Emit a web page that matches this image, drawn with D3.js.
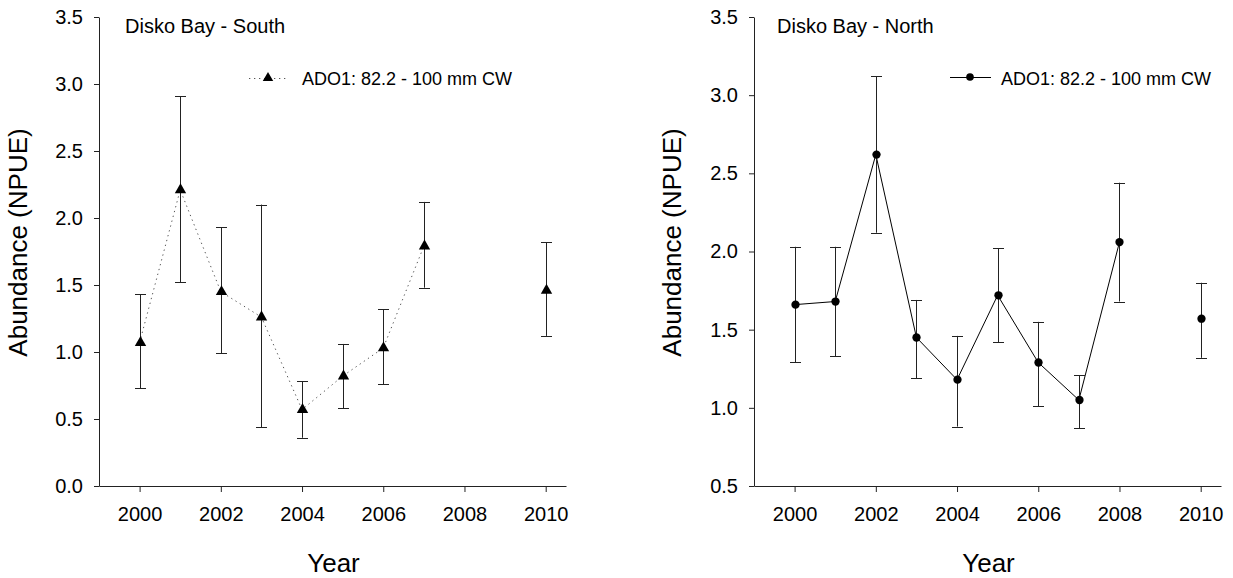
<!DOCTYPE html>
<html>
<head>
<meta charset="utf-8">
<script src="https://cdn.jsdelivr.net/npm/d3@7/dist/d3.min.js"></script>
<style>
  html, body { margin: 0; padding: 0; background: #fff; }
  svg { display: block; }
  text { font-family: "Liberation Sans", Arial, Helvetica, sans-serif; fill: #000; }
</style>
</head>
<body>
<svg id="chart" width="1233" height="578"></svg>
<script>
// Survey years and abundance (NPUE) with lower / upper error limits
const southYears = [2000, 2001, 2002, 2003, 2004, 2005, 2006, 2007, 2010];
const southMean  = [1.07, 2.21, 1.45, 1.26, 0.57, 0.82, 1.03, 1.79, 1.46];
const southLower = [0.73, 1.52, 0.99, 0.44, 0.36, 0.58, 0.76, 1.48, 1.12];
const southUpper = [1.43, 2.91, 1.93, 2.10, 0.78, 1.06, 1.32, 2.12, 1.82];

const northYears = [2000, 2001, 2002, 2003, 2004, 2005, 2006, 2007, 2008, 2010];
const northMean  = [1.66, 1.68, 2.62, 1.45, 1.18, 1.72, 1.29, 1.05, 2.06, 1.57];
const northLower = [1.29, 1.33, 2.12, 1.19, 0.88, 1.42, 1.01, 0.87, 1.68, 1.32];
const northUpper = [2.03, 2.03, 3.12, 1.69, 1.46, 2.02, 1.55, 1.21, 2.44, 1.80];

const xTicks = [2000, 2002, 2004, 2006, 2008, 2010];
const southYTicks = [0.0, 0.5, 1.0, 1.5, 2.0, 2.5, 3.0, 3.5];
const northYTicks = [0.5, 1.0, 1.5, 2.0, 2.5, 3.0, 3.5];

const seriesLabel = "ADO1: 82.2 - 100 mm CW";
const yTitle = "Abundance (NPUE)";
const xTitle = "Year";

const svg = d3.select("#chart");

const panels = [
  {
    title: "Disko Bay - South",
    years: southYears, mean: southMean, lower: southLower, upper: southUpper,
    yDomain: [0, 3.5], yTicks: southYTicks,
    left: 99, right: 566, top: 17, bottom: 486,
    titleDx: 26, yTitleX: 27,
    symbol: d3.symbolTriangle, symbolSize: 56, dotted: true,
    legendLine: [249, 286], legendSym: 268, legendText: 302, legendY: 78
  },
  {
    title: "Disko Bay - North",
    years: northYears, mean: northMean, lower: northLower, upper: northUpper,
    yDomain: [0.5, 3.5], yTicks: northYTicks,
    left: 754, right: 1221, top: 17, bottom: 486,
    titleDx: 23, yTitleX: 681,
    symbol: d3.symbolCircle, symbolSize: 54, dotted: false,
    legendLine: [950, 991], legendSym: 970, legendText: 1001, legendY: 77
  }
];

panels.forEach(p => {
  const x = d3.scaleLinear().domain([1999, 2010.5]).range([p.left, p.right]);
  const y = d3.scaleLinear().domain(p.yDomain).range([p.bottom, p.top]);
  const g = svg.append("g");

  // axes
  const yAxis = d3.axisLeft(y).tickValues(p.yTicks).tickFormat(d3.format(".1f"))
    .tickSizeInner(5).tickSizeOuter(0).tickPadding(11);
  const xAxis = d3.axisBottom(x).tickValues(xTicks).tickFormat(d3.format("d"))
    .tickSizeInner(6).tickSizeOuter(0).tickPadding(15);

  const ya = g.append("g").attr("transform", `translate(${p.left},0)`).call(yAxis);
  const xa = g.append("g").attr("transform", `translate(0,${p.bottom})`).call(xAxis);
  [ya, xa].forEach(a => {
    a.select(".domain").attr("stroke", "#222").attr("stroke-width", 1);
    a.selectAll(".tick line").attr("stroke", "#222");
    a.selectAll(".tick text").attr("font-size", 20)
      .attr("font-family", "Liberation Sans, Arial, sans-serif").attr("fill", "#000");
  });

  // axis titles
  g.append("text")
    .attr("transform", `translate(${p.yTitleX},${(p.top + p.bottom) / 2 - 9}) rotate(-90)`)
    .attr("text-anchor", "middle")
    .attr("font-size", 26)
    .text(yTitle);
  g.append("text")
    .attr("x", (p.left + p.right) / 2 + 1)
    .attr("y", 572)
    .attr("text-anchor", "middle")
    .attr("font-size", 26)
    .text(xTitle);

  // panel title
  g.append("text")
    .attr("x", p.left + p.titleDx)
    .attr("y", 33)
    .attr("font-size", 20)
    .text(p.title);

  const pts = p.years.map((yr, i) => ({ year: yr, mean: p.mean[i], lo: p.lower[i], hi: p.upper[i] }));

  // connecting line: consecutive years only
  const segments = [];
  pts.forEach((d, i) => {
    if (i === 0 || d.year - pts[i - 1].year > 1) segments.push([]);
    segments[segments.length - 1].push(d);
  });
  const line = d3.line().x(d => x(d.year)).y(d => y(d.mean));
  g.selectAll("path.series").data(segments.filter(s => s.length > 1)).join("path")
    .attr("class", "series")
    .attr("d", line)
    .attr("fill", "none")
    .attr("stroke", p.dotted ? "#555" : "#000")
    .attr("stroke-width", 1)
    .attr("stroke-dasharray", p.dotted ? "1.3,3.7" : null);

  // error bars
  const capHalf = 5.5;
  const eb = g.selectAll("g.err").data(pts).join("g").attr("class", "err")
    .attr("stroke", "#222").attr("stroke-width", 1);
  eb.append("line")
    .attr("x1", d => Math.round(x(d.year)) + 0.5).attr("x2", d => Math.round(x(d.year)) + 0.5)
    .attr("y1", d => y(d.lo)).attr("y2", d => y(d.hi));
  eb.append("line")
    .attr("x1", d => Math.round(x(d.year)) + 0.5 - capHalf).attr("x2", d => Math.round(x(d.year)) + 0.5 + capHalf)
    .attr("y1", d => Math.round(y(d.hi)) + 0.5).attr("y2", d => Math.round(y(d.hi)) + 0.5);
  eb.append("line")
    .attr("x1", d => Math.round(x(d.year)) + 0.5 - capHalf).attr("x2", d => Math.round(x(d.year)) + 0.5 + capHalf)
    .attr("y1", d => Math.round(y(d.lo)) + 0.5).attr("y2", d => Math.round(y(d.lo)) + 0.5);

  // markers
  const sym = d3.symbol().type(p.symbol).size(p.symbolSize);
  g.selectAll("path.marker").data(pts).join("path")
    .attr("class", "marker")
    .attr("transform", d => `translate(${Math.round(x(d.year)) + 0.5},${y(d.mean)})`)
    .attr("d", sym)
    .attr("fill", "#000");

  // legend
  const lg = g.append("g");
  lg.append("line")
    .attr("x1", p.legendLine[0]).attr("x2", p.legendLine[1])
    .attr("y1", p.legendY + 0.5).attr("y2", p.legendY + 0.5)
    .attr("stroke", p.dotted ? "#555" : "#000")
    .attr("stroke-width", 1)
    .attr("stroke-dasharray", p.dotted ? "1.3,3.7" : null);
  lg.append("path")
    .attr("transform", `translate(${p.legendSym},${p.legendY})`)
    .attr("d", d3.symbol().type(p.symbol).size(p.symbolSize * 0.85))
    .attr("fill", "#000");
  lg.append("text")
    .attr("x", p.legendText)
    .attr("y", 84.5)
    .attr("font-size", 18)
    .text(seriesLabel);
});
</script>
</body>
</html>
